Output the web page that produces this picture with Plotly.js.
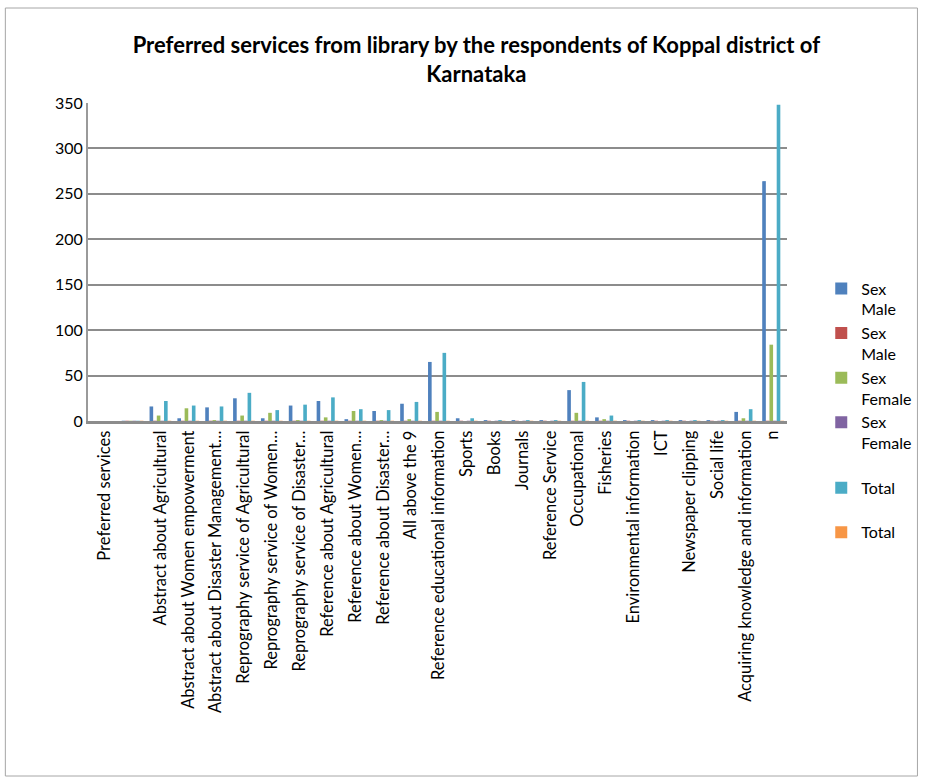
<!DOCTYPE html>
<html>
<head>
<meta charset="utf-8">
<script src="https://cdn.plot.ly/plotly-3.0.1.min.js"></script>
<style>html,body{margin:0;padding:0;background:#fff;}#chart{width:929px;height:783px;}</style>
</head>
<body>
<div id="chart"></div>
<script>
const categories = [
  "Preferred services", " ", "Abstract about Agricultural", "Abstract about Women empowerment",
  "Abstract about Disaster Management…", "Reprography service of Agricultural",
  "Reprography service of Women…", "Reprography service of Disaster…",
  "Reference about Agricultural", "Reference about Women…", "Reference about Disaster…",
  "All above the 9", "Reference educational information", "Sports", "Books", "Journals",
  "Reference Service", "Occupational", "Fisheries", "Environmental information", "ICT",
  "Newspaper clipping", "Social life", "Acquiring knowledge and information", "n"
];
const male    = [0, 0.3, 16, 3, 15, 25, 3, 17, 22, 2, 11, 19, 65, 3, 1, 1, 1, 34, 4, 1, 1, 1, 1, 10, 264];
const male2   = [0, 0.3, 0.3, 0.3, 0.3, 0.3, 0.3, 0.3, 0.3, 0.3, 0.3, 0.3, 0.3, 0.3, 0.3, 0.3, 0.3, 0.3, 0.3, 0.3, 0.3, 0.3, 0.3, 0.3, 0.3];
const female  = [0, 0.3, 6, 14, 1, 6, 9, 1, 4, 11, 1, 2, 10, 0, 0, 0, 0, 9, 2, 0, 0, 0, 0, 3, 84];
const female2 = [0, 0.3, 0.3, 0.3, 0.3, 0.3, 0.3, 0.3, 0.3, 0.3, 0.3, 0.3, 0.3, 0.3, 0.3, 0.3, 0.3, 0.3, 0.3, 0.3, 0.3, 0.3, 0.3, 0.3, 0.3];
const total   = [0, 0.3, 22, 17, 16, 31, 12, 18, 26, 13, 12, 21, 75, 3, 1, 1, 1, 43, 6, 1, 1, 1, 1, 13, 348];
const total2  = [0, 0.3, 0.3, 0.3, 0.3, 0.3, 0.3, 0.3, 0.3, 0.3, 0.3, 0.3, 0.3, 0.3, 0.3, 0.3, 0.3, 0.3, 0.3, 0.3, 0.3, 0.3, 0.3, 0.3, 0.3];
const seriesNames = ["Sex<br>Male", "Sex<br>Male", "Sex<br>Female", "Sex<br>Female<br> ", "Total<br> ", "Total"];
const yTicks = [0, 50, 100, 150, 200, 250, 300, 350];

const colors = ["#4F81BD", "#C0504D", "#9BBB59", "#8064A2", "#4BACC6", "#F79646"];
const values = [male, male2, female, female2, total, total2];
const xIdx = categories.map((c, i) => i);

const traces = values.map((v, k) => ({
  type: "bar", x: xIdx, y: v, name: seriesNames[k],
  marker: {color: colors[k], line: {width: 0}},
  hoverinfo: "skip"
}));

const font = "Lato, 'Open Sans', sans-serif";
const layout = {
  width: 929, height: 783,
  margin: {l: 88, r: 139, t: 103, b: 362},
  paper_bgcolor: "#ffffff", plot_bgcolor: "#ffffff",
  barmode: "group", bargap: 0.22, bargroupgap: 0,
  font: {family: font, color: "#000"},
  title: {
    text: "<b>Preferred services from library by the respondents of Koppal district of<br>Karnataka</b>",
    font: {family: font, size: 22, color: "#000"},
    x: 0.5556, xref: "paper", xanchor: "center",
    y: 1 - 53 / 783, yref: "container", yanchor: "top"
  },
  xaxis: {
    tickmode: "array", tickvals: xIdx, ticktext: categories,
    tickangle: -90, tickfont: {family: font, size: 16.5, color: "#000"},
    range: [-0.6, 24.5], showgrid: false, zeroline: false,
    showline: true, linecolor: "#8c8c8c", linewidth: 3, ticks: "", fixedrange: true
  },
  yaxis: {
    range: [0, 350], tickmode: "array", tickvals: yTicks,
    tickfont: {family: font, size: 16, color: "#000"},
    showgrid: true, gridcolor: "#8c8c8c", gridwidth: 2,
    showline: true, linecolor: "#9a9a9a", linewidth: 2, zeroline: false,
    ticks: "", ticklen: 0, fixedrange: true
  },
  legend: {
    x: 1.049, xanchor: "left", y: 0.47, yanchor: "top",
    font: {family: font, size: 16, color: "#000"},
    valign: "top", itemwidth: 30, tracegroupgap: 0, bgcolor: "rgba(0,0,0,0)"
  },
  showlegend: true,
  shapes: [{
    type: "rect", xref: "paper", yref: "paper", layer: "below",
    x0: (5 - 88) / 702, x1: (921 - 88) / 702,
    y0: (421 - 776) / 318, y1: (421 - 8) / 318,
    line: {color: "#a6a6a6", width: 1}, fillcolor: "rgba(0,0,0,0)"
  }]
};

Plotly.newPlot("chart", traces, layout, {displayModeBar: false, staticPlot: true});
</script>
</body>
</html>
